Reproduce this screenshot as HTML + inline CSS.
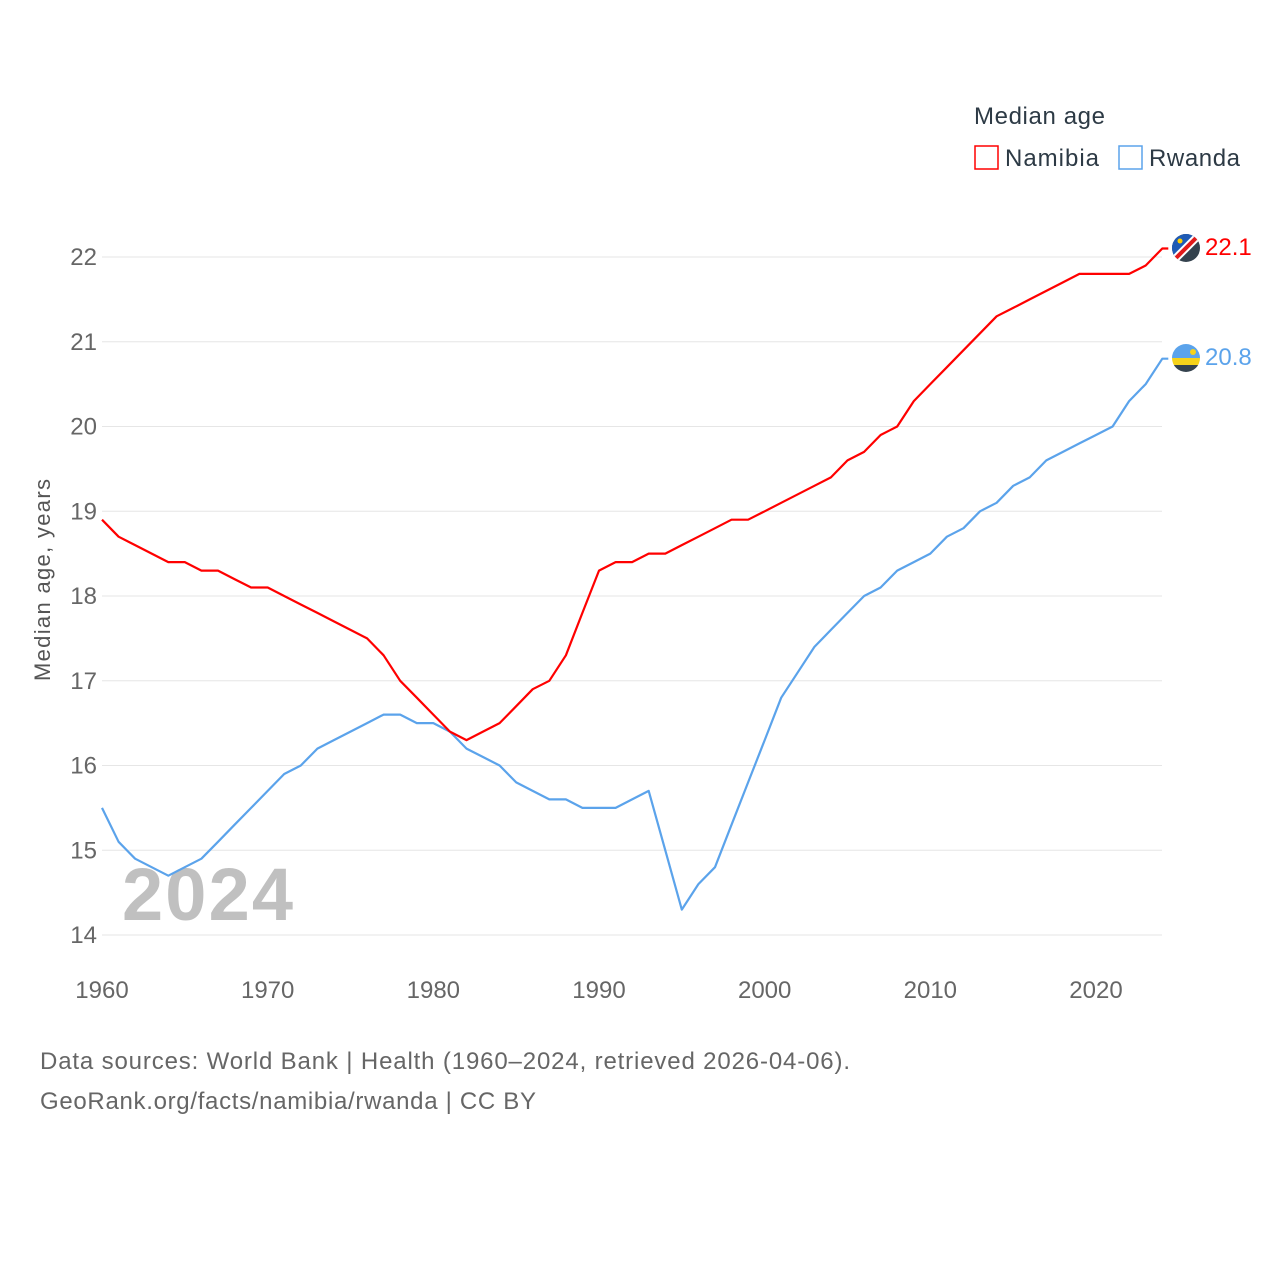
<!DOCTYPE html>
<html><head><meta charset="utf-8"><style>
body{margin:0;background:#fff;font-family:"Liberation Sans",sans-serif}
svg text{font-family:"Liberation Sans",sans-serif}
</style></head><body>
<svg width="1280" height="1280" viewBox="0 0 1280 1280">
<g>
<text x="974" y="124" font-size="24" fill="#2d3a45" textLength="131">Median age</text>
<rect x="975" y="146" width="23" height="23" fill="none" stroke="#f00" stroke-width="1.5"/>
<text x="1005" y="166" font-size="24" fill="#2d3a45" textLength="94">Namibia</text>
<rect x="1119" y="146" width="23" height="23" fill="none" stroke="#5ba3eb" stroke-width="1.5"/>
<text x="1149" y="166" font-size="24" fill="#2d3a45" textLength="91">Rwanda</text>
</g>
<g id="grid"></g>
<g id="yt"></g>
<g id="xt"></g>
<text transform="translate(50,580) rotate(-90)" text-anchor="middle" font-size="22" fill="#555" textLength="202">Median age, years</text>
<text x="122" y="920" font-size="74" font-weight="bold" fill="#c0c0c0" textLength="171">2024</text>
<g id="lines"></g>
<g>
<clipPath id="cn"><circle cx="1186" cy="248" r="14"/></clipPath>
<g clip-path="url(#cn)"><rect x="1172" y="234" width="28" height="28" fill="#34424e"/><polygon points="1172,234 1200,234 1172,262" fill="#1f5bb5"/><line x1="1172" y1="262" x2="1200" y2="234" stroke="#fff" stroke-width="8"/><line x1="1172" y1="262" x2="1200" y2="234" stroke="#e21a1a" stroke-width="4"/><circle cx="1180" cy="241" r="2.5" fill="#ffce00"/></g>
</g>
<g>
<clipPath id="cr"><circle cx="1186" cy="358" r="14"/></clipPath>
<g clip-path="url(#cr)"><rect x="1172" y="344" width="28" height="14" fill="#5ba3eb"/><rect x="1172" y="358" width="28" height="7" fill="#f5d21a"/><rect x="1172" y="365" width="28" height="7" fill="#34424e"/><circle cx="1193" cy="352" r="3" fill="#f5d21a"/></g>
</g>
<text x="1205" y="255" font-size="24" fill="#f00">22.1</text>
<text x="1205" y="365" font-size="24" fill="#5ba3eb">20.8</text>
<text x="40" y="1069" font-size="24" fill="#666" textLength="810">Data sources: World Bank | Health (1960–2024, retrieved 2026-04-06).</text>
<text x="40" y="1109" font-size="24" fill="#666" textLength="496">GeoRank.org/facts/namibia/rwanda | CC BY</text>
</svg>
<script>
const years=[];for(let y=1960;y<=2024;y++)years.push(y);
const namibia=[18.9,18.7,18.6,18.5,18.4,18.4,18.3,18.3,18.2,18.1,18.1,18.0,17.9,17.8,17.7,17.6,17.5,17.3,17.0,16.8,16.6,16.4,16.3,16.4,16.5,16.7,16.9,17.0,17.3,17.8,18.3,18.4,18.4,18.5,18.5,18.6,18.7,18.8,18.9,18.9,19.0,19.1,19.2,19.3,19.4,19.6,19.7,19.9,20.0,20.3,20.5,20.7,20.9,21.1,21.3,21.4,21.5,21.6,21.7,21.8,21.8,21.8,21.8,21.9,22.1];
const rwanda=[15.5,15.1,14.9,14.8,14.7,14.8,14.9,15.1,15.3,15.5,15.7,15.9,16.0,16.2,16.3,16.4,16.5,16.6,16.6,16.5,16.5,16.4,16.2,16.1,16.0,15.8,15.7,15.6,15.6,15.5,15.5,15.5,15.6,15.7,15.0,14.3,14.6,14.8,15.3,15.8,16.3,16.8,17.1,17.4,17.6,17.8,18.0,18.1,18.3,18.4,18.5,18.7,18.8,19.0,19.1,19.3,19.4,19.6,19.7,19.8,19.9,20.0,20.3,20.5,20.8];
const yTicks=[14,15,16,17,18,19,20,21,22];
const xTicks=[1960,1970,1980,1990,2000,2010,2020];
const X=v=>102+(v-1960)*(994/60);
const Y=v=>935-(v-14)*(678/8);
const NS='http://www.w3.org/2000/svg';
function mk(t,a,p){const e=document.createElementNS(NS,t);for(const k in a)e.setAttribute(k,a[k]);p.appendChild(e);return e;}
const g=document.getElementById('grid'),yt=document.getElementById('yt'),xt=document.getElementById('xt'),L=document.getElementById('lines');
yTicks.forEach(v=>{
 const l=mk('line',{x1:102,x2:1162,y1:Y(v),y2:Y(v),stroke:'#e6e6e6','stroke-width':1},g);
 
 
 const t=mk('text',{x:97,y:Y(v)+8,'text-anchor':'end','font-size':24,fill:'#666'},yt);t.textContent=v;
 
 
});
xTicks.forEach(v=>{
 const t=mk('text',{x:X(v),y:998,'text-anchor':'middle','font-size':24,fill:'#666'},xt);t.textContent=v;
 
 
});
function line(vals,col,name){
 let d=vals.map((v,i)=>(i?'L':'M')+X(years[i]).toFixed(1)+','+Y(v).toFixed(1)).join(' ');
 d+=' L'+(X(years[years.length-1])+6).toFixed(1)+','+Y(vals[vals.length-1]).toFixed(1);
 const p=mk('path',{d:d,fill:'none',stroke:col,'stroke-width':2.2,'stroke-linejoin':'round'},L);
 
 
}
line(rwanda,'#5ba3eb','line-rwanda');
line(namibia,'#f00','line-namibia');
</script>
</body></html>
